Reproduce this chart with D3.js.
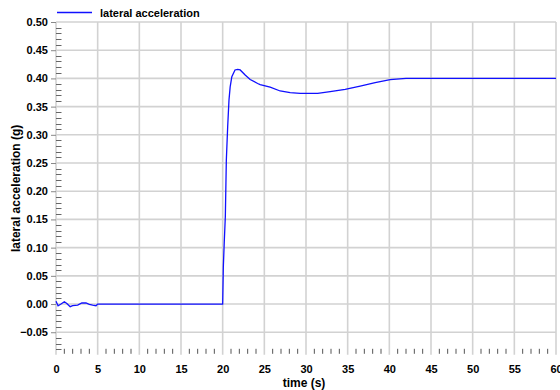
<!DOCTYPE html>
<html><head><meta charset="utf-8">
<script src="https://cdn.jsdelivr.net/npm/d3@7"></script>
<style>
html,body{margin:0;padding:0;background:#fff;}
text{font-family:"Liberation Sans",Arial,sans-serif;font-weight:bold;fill:#000;}
</style></head>
<body><svg id="c" width="560" height="390"></svg>
<script>
const seriesName = "lateral acceleration";
const time = [0,0.25,0.6,1.0,1.3,1.7,2.0,2.6,3.1,3.6,4.0,4.4,4.8,5.0,10,15,20.0,20.08,20.2,20.32,20.44,20.6,20.76,20.9,21.1,21.48,21.8,22.1,22.7,23.3,24.2,24.5,25.7,26.9,28.1,29.3,31.4,32.9,34.7,36.5,38.3,39.5,40.1,42.0,50,60];
const accel = [0.005,-0.003,0.0,0.004,0.001,-0.0047,-0.003,-0.002,0.0018,0.002,-0.0005,-0.002,-0.003,0.0,0.0,0.0,0.0,0.066,0.113,0.155,0.255,0.314,0.362,0.385,0.403,0.415,0.416,0.415,0.406,0.398,0.391,0.389,0.3845,0.3777,0.3747,0.3735,0.3735,0.3765,0.3806,0.3865,0.3924,0.396,0.398,0.400,0.400,0.400];
const xTicks = [0,5,10,15,20,25,30,35,40,45,50,55,60];
const yTicks = [-0.05,0.00,0.05,0.10,0.15,0.20,0.25,0.30,0.35,0.40,0.45,0.50];
const xLabel = "time (s)";
const yLabel = "lateral acceleration (g)";

const svg = d3.select("#c");
const L = 56, R = 556, T = 22, B = 354.8;
const x = d3.scaleLinear().domain([0,60]).range([L,R]);
const y = d3.scaleLinear().domain([-0.09,0.5]).range([B,T]);

// grid
const g = svg.append("g");
g.selectAll("line.gx").data(xTicks).enter().append("line")
  .attr("x1",d=>x(d)).attr("x2",d=>x(d)).attr("y1",T).attr("y2",B)
  .attr("stroke","#d2d2d2").attr("stroke-width",1.6);
g.selectAll("line.gy").data(yTicks).enter().append("line")
  .attr("x1",L).attr("x2",R).attr("y1",d=>y(d)).attr("y2",d=>y(d))
  .attr("stroke","#d2d2d2").attr("stroke-width",1.6);

// minor ticks
const xMinor = d3.range(0,61,1).filter(v=>v%5!==0);
g.selectAll("line.mx").data(xMinor).enter().append("line")
  .attr("x1",d=>x(d)).attr("x2",d=>x(d)).attr("y1",B-6).attr("y2",B-1)
  .attr("stroke","#555").attr("stroke-width",1);
const yMinor = d3.range(-8,51,1).filter(v=>v%5!==0).map(v=>v/100);
g.selectAll("line.my").data(yMinor).enter().append("line")
  .attr("x1",L).attr("x2",L+5.5).attr("y1",d=>Math.round(y(d))+0.5).attr("y2",d=>Math.round(y(d))+0.5)
  .attr("stroke","#666").attr("stroke-width",1);

// y axis
const ya = svg.append("g").attr("transform",`translate(${L},0)`)
  .call(d3.axisLeft(y).tickValues(yTicks).tickFormat(d3.format(".2f")).tickSize(5).tickPadding(3));
ya.select(".domain").remove();
ya.selectAll(".tick line").attr("stroke","#888");
ya.selectAll("text").style("font-size","11px").style("font-family","Liberation Sans, Arial, sans-serif").style("font-weight","bold").attr("fill","#000");

// x axis
const xa = svg.append("g").attr("transform",`translate(0,${B})`)
  .call(d3.axisBottom(x).tickValues(xTicks).tickFormat(d3.format("d")).tickSize(0).tickPadding(10));
xa.select(".domain").remove();
xa.selectAll("text").style("font-size","11px").style("font-family","Liberation Sans, Arial, sans-serif").style("font-weight","bold").attr("fill","#000");

// line
const pts = time.map((t,i)=>[t,accel[i]]);
svg.append("path").datum(pts)
  .attr("fill","none").attr("stroke","#1010ff").attr("stroke-width",1.3)
  .attr("d",d3.line().x(d=>x(d[0])).y(d=>y(d[1])));

// labels
svg.append("text").attr("x",(L+R)/2-2).attr("y",386.5).attr("text-anchor","middle")
  .style("font-size","12px").text(xLabel);
svg.append("text").attr("transform",`translate(20,${(T+B)/2}) rotate(-90)`).attr("text-anchor","middle")
  .style("font-size","12px").text(yLabel);

// legend
svg.append("line").attr("x1",57).attr("x2",92).attr("y1",12.5).attr("y2",12.5)
  .attr("stroke","#1010ff").attr("stroke-width",1.3);
svg.append("text").attr("x",100).attr("y",16.5).style("font-size","11px").text(seriesName);
</script></body></html>
